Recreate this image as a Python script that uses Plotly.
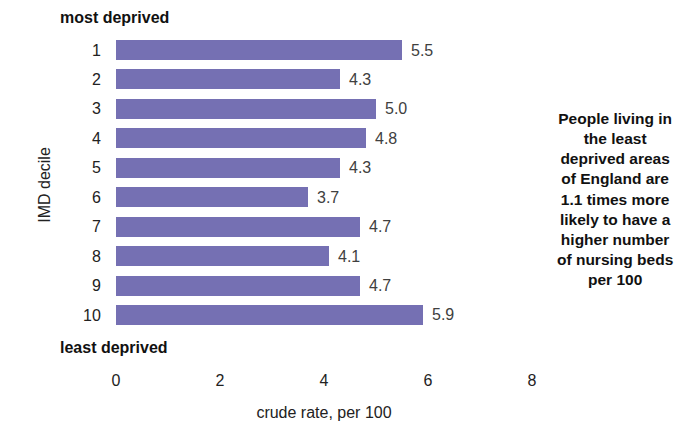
import plotly.graph_objects as go

deciles = [1, 2, 3, 4, 5, 6, 7, 8, 9, 10]
rates = [5.5, 4.3, 5.0, 4.8, 4.3, 3.7, 4.7, 4.1, 4.7, 5.9]
x_ticks = [0, 2, 4, 6, 8]

BAR_COLOR = "#7570b3"
FONT = "Liberation Sans, Arial, sans-serif"
FS = 16

fig = go.Figure(
    go.Bar(
        x=rates,
        y=deciles,
        orientation="h",
        marker=dict(color=BAR_COLOR, line=dict(width=0)),
        width=0.68,
        hoverinfo="skip",
    )
)

# value labels placed just beyond the end of each bar
for d, v in zip(deciles, rates):
    fig.add_annotation(
        x=v, y=d, xref="x", yref="y", text=f"{v:.1f}",
        showarrow=False, xanchor="left", xshift=7,
        font=dict(size=FS, color="#404040"),
    )

fig.update_layout(
    width=700,
    height=421,
    margin=dict(l=116, r=168, t=10, b=61),
    paper_bgcolor="white",
    plot_bgcolor="white",
    font=dict(family=FONT, size=FS, color="#222222"),
    showlegend=False,
    bargap=0,
)

fig.update_xaxes(
    range=[0, 8],
    automargin=False,
    tickvals=x_ticks,
    ticktext=[str(t) for t in x_ticks],
    showgrid=False,
    zeroline=False,
    showline=False,
    ticks="outside",
    ticklen=6,
    tickcolor="rgba(0,0,0,0)",
    tickfont=dict(size=FS, color="#222222"),
    title=dict(text="crude rate, per 100", font=dict(size=FS, color="#222222"), standoff=23),
)

fig.update_yaxes(
    range=[11.529, -0.359],
    automargin=False,
    tickvals=deciles,
    ticktext=[str(d) for d in deciles],
    showgrid=False,
    zeroline=False,
    showline=False,
    ticks="outside",
    ticklen=11,
    tickcolor="rgba(0,0,0,0)",
    tickfont=dict(size=FS, color="#222222"),
    title=dict(text="IMD decile", font=dict(size=FS, color="#222222"), standoff=28),
)

fig.add_annotation(
    x=0, y=-0.12, xref="x", yref="y", text="<b>most deprived</b>",
    showarrow=False, xanchor="left", xshift=-58, font=dict(size=FS, color="#111111"),
)
fig.add_annotation(
    x=0, y=11.09, xref="x", yref="y", text="<b>least deprived</b>",
    showarrow=False, xanchor="left", xshift=-58, font=dict(size=FS, color="#111111"),
)

fig.add_annotation(
    x=1.2, y=0.46, xref="paper", yref="paper",
    text=("<b>People living in<br>the least<br>deprived areas<br>of England are<br>"
          "1.1 times more<br>likely to have a<br>higher number<br>of nursing beds<br>per 100</b>"),
    showarrow=False, xanchor="center", yanchor="middle", align="center",
    font=dict(size=15.5, color="#111111"),
)

fig.write_html("out.html")
